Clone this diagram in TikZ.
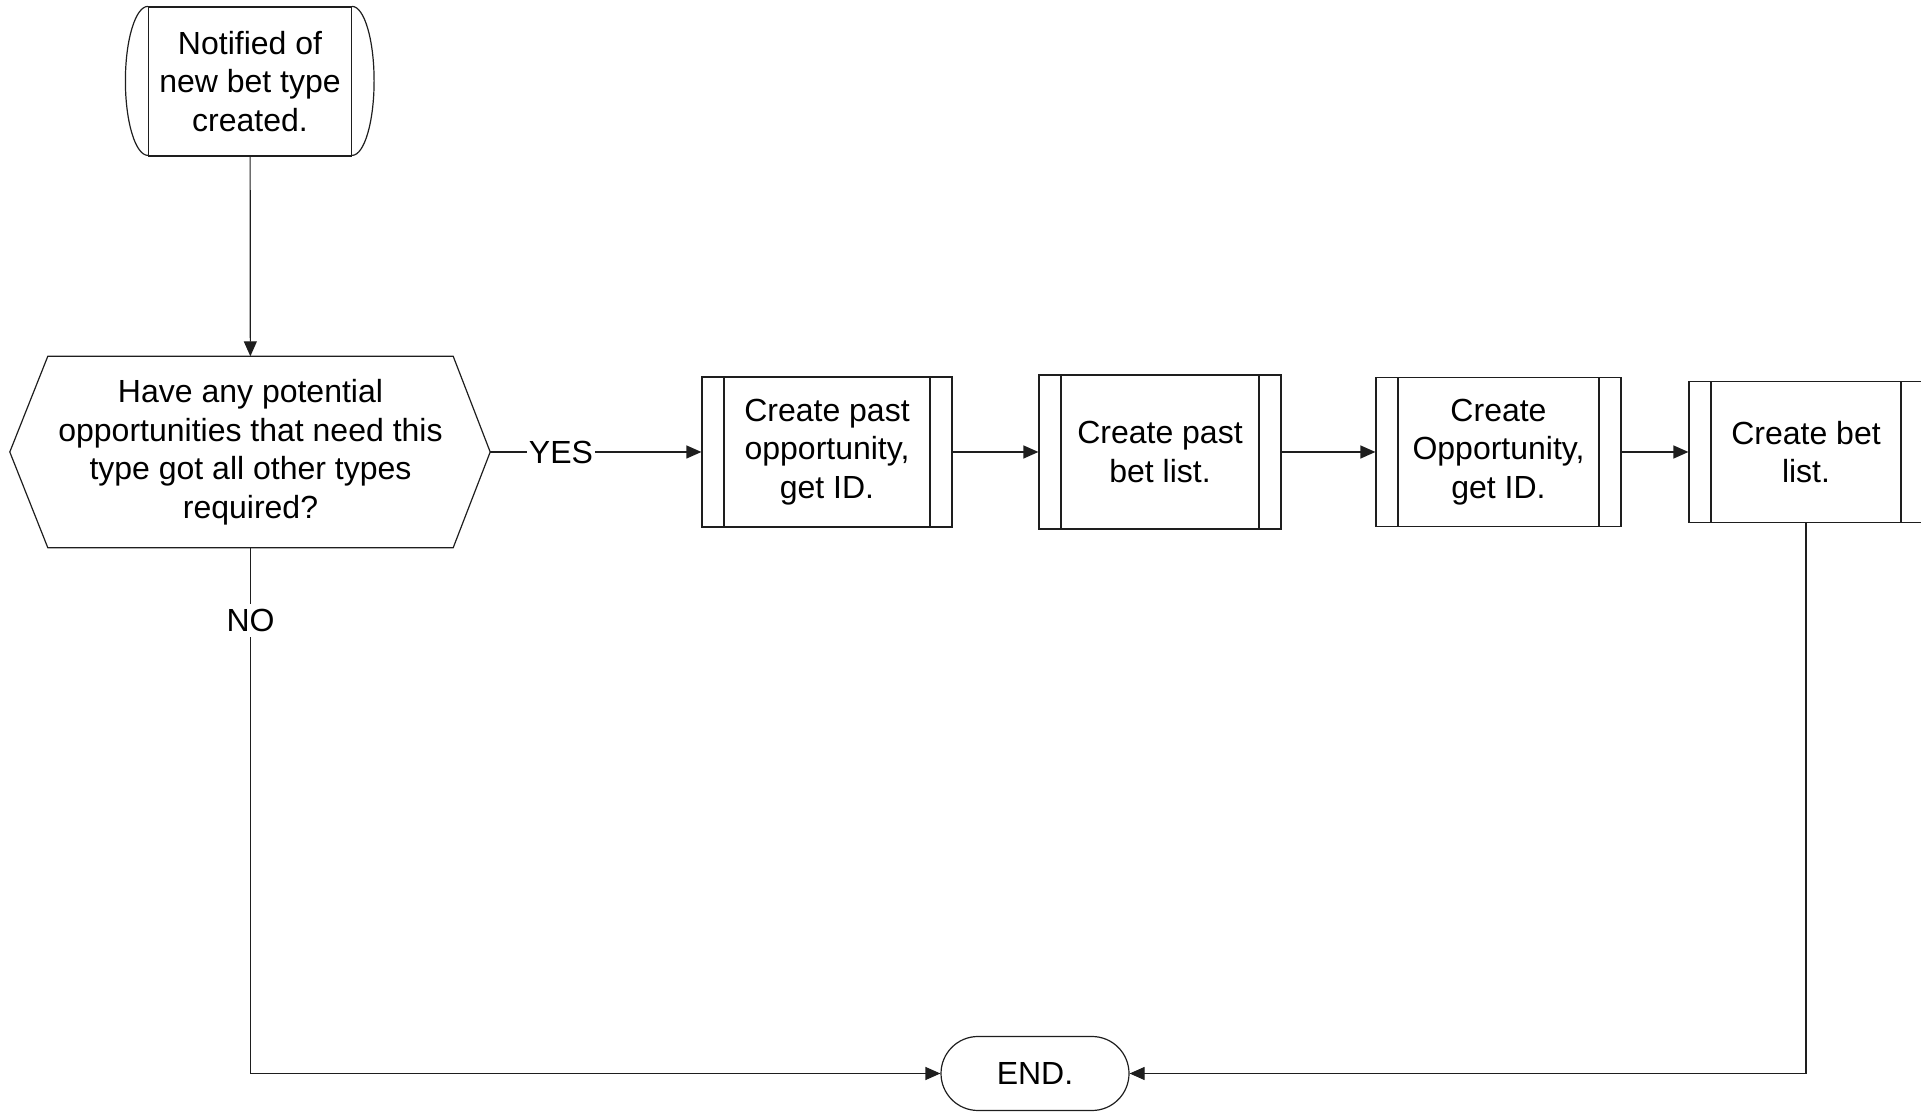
\documentclass[tikz,border=0pt]{standalone}
\usepackage{fontspec}
\setmainfont{Liberation Sans}
\usetikzlibrary{arrows.meta,calc,shapes.misc}
\definecolor{lc}{HTML}{1E1E1E}
\begin{document}
\begin{tikzpicture}[x=1pt,y=1pt,
  txt/.style={font=\fontsize{32}{38.5}\selectfont, align=center, text=black},
  outline/.style={draw=lc, line width=1.2pt},
  procbox/.style={txt, outline, rectangle, inner sep=0pt,
    path picture={
      \draw[lc, line width=1.2pt]
        ([xshift=22pt]path picture bounding box.north west) --
        ([xshift=22pt]path picture bounding box.south west)
        ([xshift=-22pt]path picture bounding box.north east) --
        ([xshift=-22pt]path picture bounding box.south east);}},
  conn/.style={draw=lc, line width=1.2pt, -{Triangle[length=15pt,width=13pt]}},
  lbl/.style={txt, fill=white, inner xsep=2pt, inner ysep=5pt}]

\useasboundingbox (0,0) rectangle (1921,1113);

% start: notification terminal with bulged sides
\node[txt, outline, minimum width=203pt, minimum height=149pt, inner sep=0pt]
  (start) at (250,1031.5) {Notified of\\new bet type\\created.};
\draw[outline] (start.north west) arc[start angle=90, end angle=270, x radius=22.5, y radius=74.5];
\draw[outline] (start.north east) arc[start angle=90, end angle=-90, x radius=22, y radius=74.5];

% decision hexagon
\node[txt, minimum width=405pt, minimum height=191pt, inner sep=0pt]
  (q) at (250.5,661) {Have any potential\\opportunities that need this\\type got all other types\\required?};
\coordinate (qL) at ($(q.west)+(-38,0)$);
\coordinate (qR) at ($(q.east)+(37,0)$);
\draw[outline] (q.north west) -- (q.north east) -- (qR) -- (q.south east)
  -- (q.south west) -- (qL) -- cycle;

% predefined processes
\node[procbox, minimum width=250pt, minimum height=150pt] (b1) at (827,661)
  {Create past\\opportunity,\\get ID.};
\node[procbox, minimum width=242pt, minimum height=154pt] (b2) at (1160,661)
  {Create past\\bet list.};
\node[procbox, minimum width=245pt, minimum height=149pt] (b3) at (1498.5,661)
  {Create\\Opportunity,\\get ID.};
\node[procbox, minimum width=234pt, minimum height=141pt] (b4) at (1806,661)
  {Create bet\\list.};

% end terminal
\node[txt, outline, rounded rectangle, minimum width=188pt, minimum height=74pt, inner sep=0pt]
  (end) at (1035,39.5) {END.};

% connectors
\draw[conn] (start) -- (q);
\draw[conn] (qR) -- node[lbl, pos=0.335] {YES} (b1.west);
\draw[conn] (b1) -- (b2);
\draw[conn] (b2) -- (b3);
\draw[conn] (b3) -- (b4);
\draw[conn] (q.south) |- node[lbl, pos=0.069] {NO} (end.west);
\draw[conn] (b4.south) |- (end.east);
\end{tikzpicture}
\end{document}
